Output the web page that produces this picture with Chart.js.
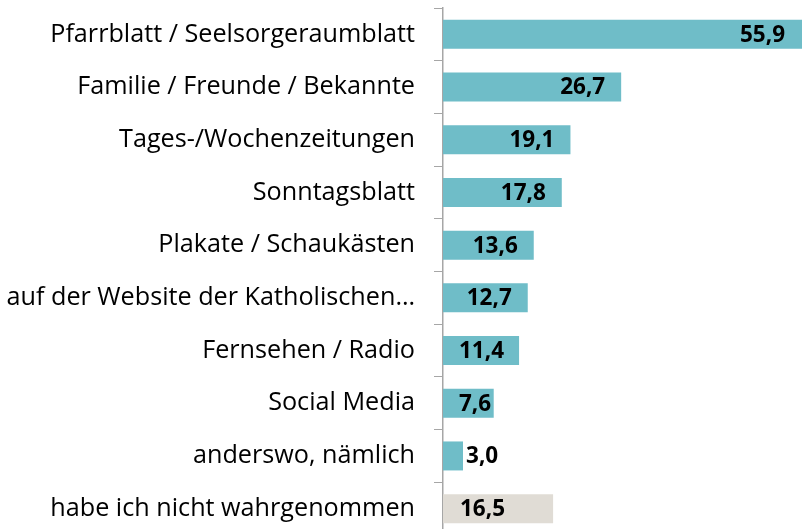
<!DOCTYPE html>
<html lang="de">
<head>
  <meta charset="UTF-8" />
  <title>Wahrnehmung</title>
  <script src="https://cdn.jsdelivr.net/npm/chart.js"></script>
<style>
html, body {
  margin: 0;
  padding: 0;
  background: #fff;
  overflow: hidden;
}
#wrap {
  position: relative;
  width: 802px;
  height: 535px;
}
</style>
</head>
<body>
  <div id="wrap"><canvas id="barChart"></canvas></div>
<script>
  const categories = [
    'Pfarrblatt / Seelsorgeraumblatt',
    'Familie / Freunde / Bekannte',
    'Tages-/Wochenzeitungen',
    'Sonntagsblatt',
    'Plakate / Schaukästen',
    'auf der Website der Katholischen…',
    'Fernsehen / Radio',
    'Social Media',
    'anderswo, nämlich',
    'habe ich nicht wahrgenommen'
  ];
  const values = [55.9, 26.7, 19.1, 17.8, 13.6, 12.7, 11.4, 7.6, 3.0, 16.5];
  const xMax = 53.8;

  const teal = '#6fbdc8';
  const grey = '#e0dcd5';
  const colors = categories.map((c, i) => i === categories.length - 1 ? grey : teal);

  // Werte wie in Excel: in der Balkenspitze, bei kurzen Balken daneben
  const valueLabels = {
    id: 'valueLabels',
    afterDatasetsDraw(chart) {
      const ctx = chart.ctx;
      const area = chart.chartArea;
      const meta = chart.getDatasetMeta(0);
      ctx.save();
      ctx.font = 'bold 22.5px "Open Sans"';
      ctx.fillStyle = '#000';
      ctx.textBaseline = 'middle';
      ctx.textAlign = 'left';
      meta.data.forEach((bar, i) => {
        const txt = values[i].toFixed(1).replace('.', ',');
        const w = ctx.measureText(txt).width;
        const start = area.left;
        const end = Math.min(bar.x, area.right - 1);
        let x;
        if (i === values.length - 1) {
          x = start + 17;
        } else {
          x = Math.max(start + 16, end - 16 - w);
          if (x + w > end) x = end + 3;
        }
        ctx.fillText(txt, x, bar.y + 1);
      });
      ctx.restore();
    }
  };

  new Chart(document.getElementById('barChart'), {
    type: 'bar',
    data: {
      labels: categories,
      datasets: [{
        data: values,
        backgroundColor: colors,
        borderWidth: 0,
        barPercentage: 0.55,
        categoryPercentage: 1
      }]
    },
    options: {
      indexAxis: 'y',
      responsive: true,
      maintainAspectRatio: false,
      animation: false,
      layout: { padding: { top: 8, right: 0, bottom: 0, left: 0 } },
      plugins: {
        legend: { display: false },
        tooltip: { enabled: false }
      },
      scales: {
        x: {
          display: false,
          min: 0,
          max: xMax
        },
        y: {
          offset: true,
          grid: {
            offset: true,
            drawOnChartArea: false,
            drawTicks: true,
            tickLength: 9,
            color: '#a6a6a6'
          },
          border: { color: '#a6a6a6', width: 1.5 },
          ticks: {
            color: '#000',
            padding: 19,
            font: { family: 'Open Sans', size: 25.2 }
          },
          afterFit(scale) {
            scale.width = 443;
            scale.paddingTop = 0;
            scale.paddingBottom = 0;
          }
        }
      }
    },
    plugins: [valueLabels]
  });
</script>
</body>
</html>
